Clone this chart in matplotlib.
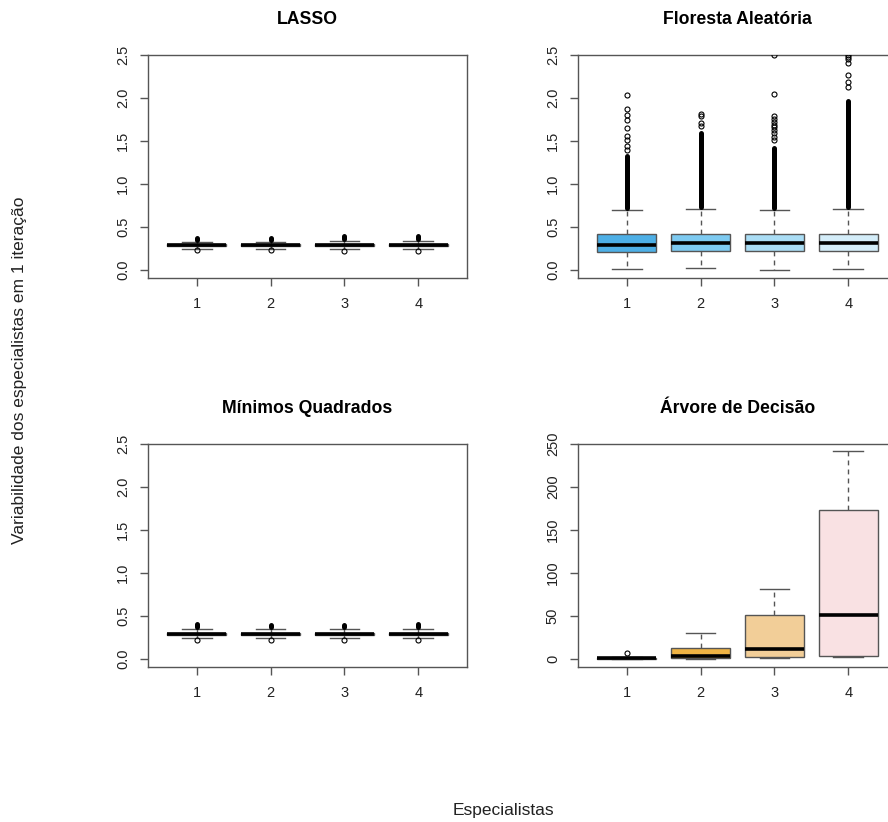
import numpy as np
import matplotlib
matplotlib.use('Agg')
import matplotlib.pyplot as plt

plt.rcParams['font.family'] = ['Liberation Sans', 'DejaVu Sans']

# 1. Data
specialists = ['1', '2', '3', '4']
titles = ['LASSO', 'Floresta Aleatória', 'Mínimos Quadrados', 'Árvore de Decisão']

# LASSO
lasso_q1 = [0.28, 0.28, 0.28, 0.28]
lasso_med = [0.29, 0.29, 0.29, 0.29]
lasso_q3 = [0.30, 0.30, 0.30, 0.30]
lasso_lo = [0.25, 0.25, 0.245, 0.245]
lasso_hi = [0.33, 0.33, 0.34, 0.34]
lasso_dense = [(0.35, 0.37), (0.35, 0.37), (0.36, 0.39), (0.36, 0.39)]
lasso_fliers = [[0.23], [0.23], [0.225], [0.225]]

# Floresta Aleatoria
rf_q1 = [0.21, 0.22, 0.22, 0.22]
rf_med = [0.29, 0.31, 0.31, 0.31]
rf_q3 = [0.415, 0.42, 0.42, 0.42]
rf_lo = [0.01, 0.02, 0.0, 0.01]
rf_hi = [0.70, 0.71, 0.70, 0.71]
rf_dense = [(0.72, 1.32), (0.73, 1.59), (0.72, 1.42), (0.73, 1.96)]
rf_fliers = [[1.40, 1.44, 1.51, 1.56, 1.65, 1.75, 1.80, 1.87, 2.03],
             [1.67, 1.71, 1.79, 1.81],
             [1.51, 1.55, 1.59, 1.63, 1.66, 1.69, 1.72, 1.76, 1.79, 2.05, 2.5],
             [2.13, 2.19, 2.27, 2.41, 2.45, 2.48, 2.5]]

# Minimos Quadrados
ols_q1 = [0.28, 0.28, 0.28, 0.28]
ols_med = [0.29, 0.29, 0.29, 0.29]
ols_q3 = [0.30, 0.30, 0.30, 0.30]
ols_lo = [0.24, 0.24, 0.24, 0.24]
ols_hi = [0.35, 0.35, 0.35, 0.35]
ols_dense = [(0.37, 0.41), (0.37, 0.40), (0.37, 0.40), (0.37, 0.41)]
ols_fliers = [[0.22], [0.22], [0.22], [0.22]]

# Arvore de Decisao
tree_q1 = [0.5, 1.5, 2.7, 3.5]
tree_med = [1.0, 3.9, 11.6, 51.0]
tree_q3 = [1.5, 13.2, 51.0, 173.0]
tree_lo = [0.0, 0.0, 1.5, 2.5]
tree_hi = [2.5, 30.5, 81.0, 242.0]
tree_dense = [None, None, None, None]
tree_fliers = [[6.5], [], [], []]

rf_colors = ['#4DAFE6', '#7DCAF1', '#AADDF5', '#D4EDF9']
tree_colors = ['#E8A02A', '#F0B444', '#F2CE98', '#F9E1E3']
white = ['white'] * 4

# 2. Helper that draws one R-style boxplot panel
edge = '#555555'

def r_boxplot(ax, q1, med, q3, lo, hi, dense, fliers, colors, top, title):
    stats = []
    for i in range(4):
        stats.append(dict(q1=q1[i], med=med[i], q3=q3[i], whislo=lo[i],
                          whishi=hi[i], fliers=fliers[i]))
    pos = np.arange(1, 5)
    bp = ax.bxp(stats, positions=pos, widths=0.8, patch_artist=True,
                boxprops=dict(edgecolor=edge, linewidth=1),
                medianprops=dict(color='black', linewidth=2.6, solid_capstyle='butt'),
                whiskerprops=dict(color=edge, linewidth=1, linestyle=(0, (3.5, 3))),
                capprops=dict(color=edge, linewidth=1),
                flierprops=dict(marker='o', markersize=3.6, markerfacecolor='none',
                                markeredgecolor='black', markeredgewidth=0.8))
    for patch, c in zip(bp['boxes'], colors):
        patch.set_facecolor(c)
    # dense runs of overlapping outlier circles
    for p, d in zip(pos, dense):
        if d is not None:
            ax.vlines(p, d[0], d[1], color='black', linewidth=3.6, capstyle='round', zorder=4)
    for fl in bp['fliers']:
        fl.set_zorder(5)
    ax.set_xlim(0.34, 4.66)
    ax.set_ylim(-0.0372 * top, top)
    ax.set_xticks(pos)
    ax.set_xticklabels(specialists)
    ticks = np.linspace(0, top, 6)
    ax.set_yticks(ticks)
    if top > 10:
        ax.set_yticklabels(['%d' % t for t in ticks])
    else:
        ax.set_yticklabels(['%.1f' % t for t in ticks])
    for lab in ax.get_yticklabels():
        lab.set_rotation(90)
        lab.set_va('center')
    ax.tick_params(direction='out', length=6, width=1, color=edge, labelsize=10.5,
                   labelcolor='#222222')
    ax.tick_params(axis='y', pad=7)
    ax.tick_params(axis='x', pad=8)
    for s in ax.spines.values():
        s.set_color(edge)
        s.set_linewidth(1)
    ax.set_title(title, fontsize=12.7, fontweight='bold', pad=22)

# 3. Layout: 2x2 panels, right column runs past the picture edge
fig = plt.figure(figsize=(8.88, 8.22), dpi=100)
w, h = 319 / 888, 223 / 822
ax_lasso = fig.add_axes([148 / 888, 1 - 278 / 822, w, h])
ax_rf = fig.add_axes([578 / 888, 1 - 278 / 822, w, h])
ax_ols = fig.add_axes([148 / 888, 1 - 667 / 822, w, h])
ax_tree = fig.add_axes([578 / 888, 1 - 667 / 822, w, h])

r_boxplot(ax_lasso, lasso_q1, lasso_med, lasso_q3, lasso_lo, lasso_hi,
          lasso_dense, lasso_fliers, white, 2.5, titles[0])
r_boxplot(ax_rf, rf_q1, rf_med, rf_q3, rf_lo, rf_hi,
          rf_dense, rf_fliers, rf_colors, 2.5, titles[1])
r_boxplot(ax_ols, ols_q1, ols_med, ols_q3, ols_lo, ols_hi,
          ols_dense, ols_fliers, white, 2.5, titles[2])
r_boxplot(ax_tree, tree_q1, tree_med, tree_q3, tree_lo, tree_hi,
          tree_dense, tree_fliers, tree_colors, 250, titles[3])

fig.text(20 / 888, 1 - 370 / 822, 'Variabilidade dos especialistas em 1 iteração',
         rotation=90, ha='center', va='center', fontsize=12.5, color='#222222')
fig.text(503 / 888, 1 - 810 / 822, 'Especialistas', ha='center', va='center',
         fontsize=12.5, color='#222222')

fig.savefig('out.png', dpi=100)
